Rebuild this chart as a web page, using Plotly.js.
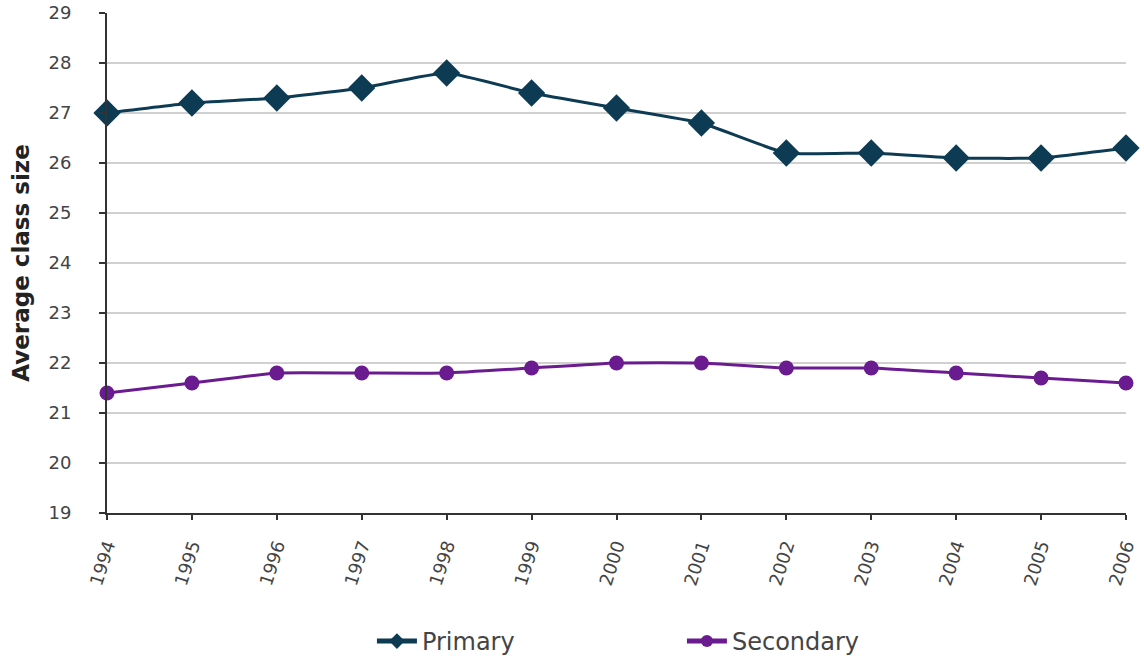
<!DOCTYPE html>
<html><head><meta charset="utf-8">
<script src="https://cdn.plot.ly/plotly-3.0.1.min.js"></script>
<style>html,body{margin:0;padding:0;background:#fff;}#chart{width:1144px;height:662px;}</style>
</head><body><div id="chart"></div>
<script>
const years = [1994,1995,1996,1997,1998,1999,2000,2001,2002,2003,2004,2005,2006];
const primary = [27.0,27.2,27.3,27.5,27.8,27.4,27.1,26.8,26.2,26.2,26.1,26.1,26.3];
const secondary = [21.4,21.6,21.8,21.8,21.8,21.9,22.0,22.0,21.9,21.9,21.8,21.7,21.6];
const yTicks = [19,20,21,22,23,24,25,26,27,28,29];

const traces = [
  {x: years, y: primary, name: 'Primary', mode: 'lines+markers', cliponaxis: false,
   line: {color: '#0d3b53', width: 3, shape: 'spline', smoothing: 0.4},
   marker: {symbol: 'diamond', size: 21, color: '#0d3b53'}},
  {x: years, y: secondary, name: 'Secondary', mode: 'lines+markers', cliponaxis: false,
   line: {color: '#6a1b8f', width: 3, shape: 'spline', smoothing: 0.4},
   marker: {symbol: 'circle', size: 15, color: '#6a1b8f'}}
];

const layout = {
  width: 1144, height: 662,
  margin: {l: 107, r: 18, t: 13, b: 149, autoexpand: false},
  paper_bgcolor: '#fff', plot_bgcolor: '#fff',
  font: {family: 'DejaVu Sans, sans-serif', color: '#444'},
  xaxis: {
    range: [1994, 2006], tickvals: years, ticktext: years.map(String), automargin: false,
    tickangle: -72, tickfont: {size: 18, color: '#444'}, ticklabelstandoff: 8,
    showgrid: false, zeroline: false, showline: true, linecolor: '#333', linewidth: 2,
    ticks: 'outside', ticklen: 5, tickcolor: '#333', tickwidth: 2
  },
  yaxis: {
    range: [19, 29], tickvals: yTicks, automargin: false,
    tickfont: {size: 18, color: '#444'}, ticklabelstandoff: 24,
    showgrid: true, gridcolor: '#d0d0d0', gridwidth: 2, zeroline: false,
    showline: true, linecolor: '#333', linewidth: 2,
    ticks: 'outside', ticklen: 6, tickcolor: '#333', tickwidth: 2,
    title: {text: '<b>Average class size</b>', font: {size: 23, color: '#222'}, standoff: 12}
  },
  showlegend: true,
  legend: {orientation: 'h', x: 0.26, xanchor: 'left', y: -0.212, yanchor: 'top',
           font: {size: 24, color: '#444'}, itemwidth: 40, itemsizing: 'constant', entrywidth: 255},
};
Plotly.newPlot('chart', traces, layout, {displayModeBar: false, staticPlot: true});
</script></body></html>
